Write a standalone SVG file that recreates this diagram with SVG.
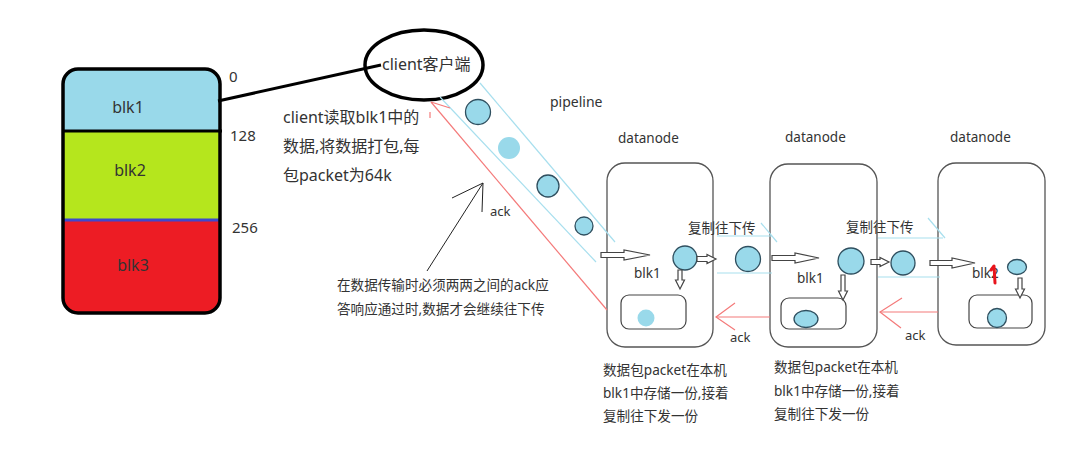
<svg xmlns="http://www.w3.org/2000/svg" width="1092" height="459" viewBox="0 0 1092 459">
<style>
text{font-family:"Noto Sans","Noto Sans CJK SC",sans-serif;fill:#333}
.t16{font-size:16px}
.t15{font-size:15px}
.t13{font-size:13.5px}
.t12{font-size:13.6px}
.node{fill:#fff;stroke:#555;stroke-width:1.3}
.inner{fill:#fff;stroke:#444;stroke-width:1.2}
.pkt{fill:#99d9ea;stroke:#2f4f5f;stroke-width:1.3}
.pktn{fill:#99d9ea}
.pipe{stroke:#a8dfee;stroke-width:1.2;fill:none}
.red{stroke:#f47a7a;stroke-width:1.2;fill:none}
.fat{fill:#fff;stroke:#444;stroke-width:1.2}
</style>
<rect width="1092" height="459" fill="#fff"/>

<g id="file-block">
  <path d="M63,131 V84 Q63,69 78,69 H205 Q220,69 220,84 V131 Z" fill="#99d9ea"/>
  <rect x="63" y="131" width="157" height="89" fill="#b5e61d"/>
  <path d="M63,220 H220 V298 Q220,313 205,313 H78 Q63,313 63,298 Z" fill="#ed1c24"/>
  <line x1="63" y1="131" x2="222" y2="131" stroke="#000" stroke-width="3"/>
  <line x1="63" y1="220" x2="220" y2="220" stroke="#3f48cc" stroke-width="3"/>
  <rect x="63" y="69" width="157" height="244" rx="15" fill="none" stroke="#000" stroke-width="3.5"/>
  <text x="128" y="113" class="t16" text-anchor="middle">blk1</text>
  <text x="130" y="176" class="t16" text-anchor="middle">blk2</text>
  <text x="133" y="271" class="t16" text-anchor="middle">blk3</text>
  <text x="229" y="82" class="t15">0</text>
  <text x="230" y="141" class="t15">128</text>
  <text x="232" y="233" class="t15">256</text>
</g>

<g id="client">
  <ellipse cx="424" cy="65" rx="59" ry="35" fill="none" stroke="#000" stroke-width="3.5"/>
  <text x="382" y="70" class="t16">client客户端</text>
</g>

<g id="notes">
  <text x="283" y="123" class="t16">client读取blk1中的</text>
  <text x="283" y="152" class="t16">数据,将数据打包,每</text>
  <text x="283" y="181" class="t16">包packet为64k</text>
  <text x="550" y="107" font-size="14">pipeline</text>
  <text x="490" y="216" font-size="13">ack</text>
  <text x="337" y="290" class="t12">在数据传输时必须两两之间的ack应</text>
  <text x="337" y="314" class="t12">答响应通过时,数据才会继续往下传</text>
  <text x="603" y="375" class="t12">数据包packet在本机</text>
  <text x="603" y="398" class="t12">blk1中存储一份,接着</text>
  <text x="603" y="421" class="t12">复制往下发一份</text>
  <text x="774" y="372" class="t12">数据包packet在本机</text>
  <text x="774" y="396" class="t12">blk1中存储一份,接着</text>
  <text x="774" y="419" class="t12">复制往下发一份</text>
</g>

<g id="datanode1">
  <text x="618" y="143" class="t13">datanode</text>
  <rect class="node" x="607" y="163" width="106" height="184" rx="18"/>
  <rect class="inner" x="621" y="295" width="65" height="34" rx="8"/>
  <circle class="pktn" cx="646" cy="318" r="8.5"/>
  <text x="634" y="278" class="t13">blk1</text>
  <circle class="pkt" cx="685" cy="258" r="12"/>
</g>

<g id="datanode2">
  <text x="785" y="142" class="t13">datanode</text>
  <rect class="node" x="770" y="164" width="107" height="183" rx="18"/>
  <rect class="inner" x="781" y="298" width="65" height="31" rx="8"/>
  <ellipse class="pkt" cx="806" cy="319" rx="12" ry="8.5"/>
  <text x="797" y="283" class="t13">blk1</text>
  <circle class="pkt" cx="851" cy="261" r="13"/>
</g>

<g id="datanode3">
  <text x="950" y="142" class="t13">datanode</text>
  <rect class="node" x="938" y="163" width="107" height="182" rx="18"/>
  <rect class="inner" x="969" y="295" width="63" height="33" rx="8"/>
  <circle class="pkt" cx="997" cy="318" r="9.5"/>
  <text x="972" y="278" class="t13">blk2</text>
  <path d="M991,270 L994,266 L995,283" stroke="#e8141c" stroke-width="3" fill="none" stroke-linecap="round" stroke-linejoin="round"/>
  <ellipse class="pkt" cx="1017" cy="267" rx="9.5" ry="7.5"/>
</g>

<g id="packets">
  <circle class="pkt" cx="478" cy="112" r="12.5"/>
  <circle class="pktn" cx="509" cy="148" r="11"/>
  <circle class="pkt" cx="548" cy="186" r="11"/>
  <circle class="pkt" cx="584" cy="226" r="9"/>
  <circle class="pkt" cx="748" cy="259" r="12.5"/>
  <circle class="pkt" cx="903" cy="263" r="12"/>
</g>

<g id="connectors">
  <line x1="218" y1="101" x2="381" y2="65" stroke="#000" stroke-width="3"/>
  <line class="pipe" x1="480" y1="83" x2="615" y2="242"/>
  <line class="pipe" x1="440" y1="97" x2="596" y2="262"/>
  <line class="pipe" x1="717" y1="236" x2="772" y2="236"/>
  <line class="pipe" x1="761" y1="223" x2="777" y2="242"/>
  <line class="pipe" x1="717" y1="273" x2="772" y2="273"/>
  <line class="pipe" x1="878" y1="238" x2="943" y2="238"/>
  <line class="pipe" x1="928" y1="218" x2="945" y2="238"/>
  <line class="pipe" x1="878" y1="277" x2="940" y2="277"/>
  <line class="red" x1="607" y1="310" x2="431" y2="102"/>
  <line class="red" x1="431" y1="102" x2="450" y2="108"/>
  <line class="red" x1="430" y1="112" x2="430" y2="118"/>
  <line class="red" x1="770" y1="317" x2="716" y2="317"/>
  <polyline class="red" points="735,303 716,317 735,330"/>
  <line class="red" x1="938" y1="312" x2="880" y2="312"/>
  <polyline class="red" points="902,298 880,312 901,328"/>
  <text x="730" y="342" font-size="13">ack</text>
  <text x="905" y="340" font-size="13">ack</text>
  <line x1="427" y1="271" x2="483" y2="183" stroke="#222" stroke-width="1"/>
  <polyline points="452,198 483,183 482,212" fill="none" stroke="#222" stroke-width="1"/>
  <polygon class="fat" points="601,252.5 624,252.5 624,250 650,255 624,260 624,257.5 601,257.5"/>
  <polygon class="fat" points="772,255.5 795,255.5 795,253 819,258 795,263 795,260.5 772,260.5"/>
  <polygon class="fat" points="930,260.5 952,260.5 952,258 975,263 952,268 952,265.5 930,265.5"/>
  <polygon class="fat" points="697,256.5 707,256.5 707,254.5 716,259 707,263.5 707,261.5 697,261.5"/>
  <polygon class="fat" points="871,259.5 880,259.5 880,257.5 889,262 880,266.5 880,264.5 871,264.5"/>
  <polygon class="fat" points="678,270 682,270 682,280 684.5,280 680,289 675.5,280 678,280"/>
  <polygon class="fat" points="841,275 845,275 845,291 847.5,291 843,300 838.5,291 841,291"/>
  <polygon class="fat" points="1018,278 1022,278 1022,289 1024.5,289 1020,298 1015.5,289 1018,289"/>
  <text x="688" y="233" class="t13">复制往下传</text>
  <text x="846" y="232" class="t13">复制往下传</text>
</g>
</svg>
